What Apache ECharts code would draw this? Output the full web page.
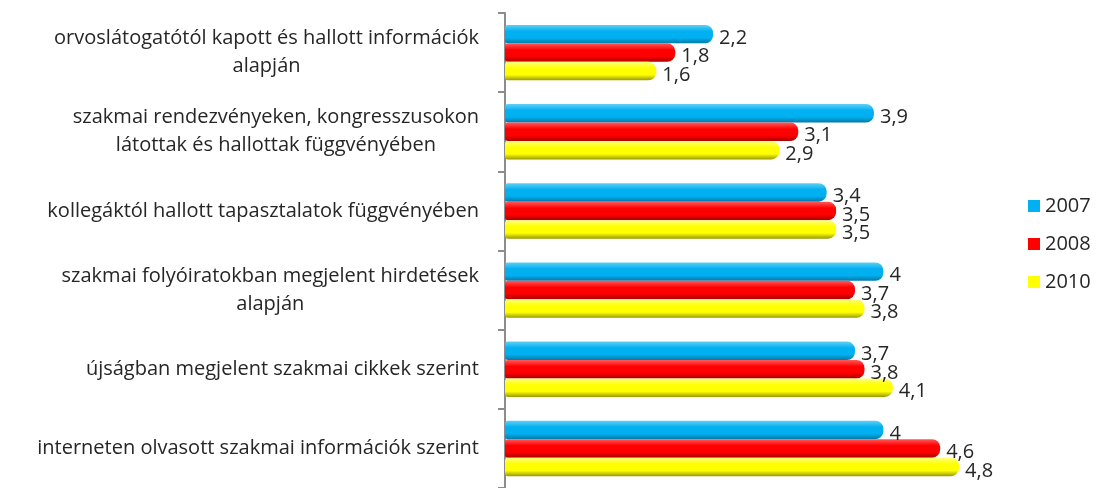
<!DOCTYPE html>
<html>
<head>
<meta charset="utf-8">
<script src="https://cdn.jsdelivr.net/npm/echarts@6/dist/echarts.min.js"></script>
<style>
  html, body { margin: 0; padding: 0; background: #fff; }
  #chart { width: 1100px; height: 488px; }
</style>
</head>
<body>
<div id="chart"></div>
<script>
// categories top to bottom
const categories = [
  ['orvoslátogatótól kapott és hallott információk', 'alapján'],
  ['szakmai rendezvényeken, kongresszusokon', 'látottak és hallottak függvényében'],
  ['kollegáktól hallott tapasztalatok függvényében'],
  ['szakmai folyóiratokban megjelent hirdetések', 'alapján'],
  ['újságban megjelent szakmai cikkek szerint'],
  ['interneten olvasott szakmai információk szerint']
];
const years = ['2007', '2008', '2010'];
const values2007 = [2.2, 3.9, 3.4, 4, 3.7, 4];
const values2008 = [1.8, 3.1, 3.5, 3.7, 3.8, 4.6];
const values2010 = [1.6, 2.9, 3.5, 3.8, 4.1, 4.8];

const FONT = '"Open Sans", Lato, sans-serif';
const TEXT = '#262626';

// cylinder-ish shading: light top, base middle, dark bottom
const PALETTE = [
  { base: '#00b0f0', light: '#5fd0f7', dark: '#0079a8' },
  { base: '#ff0000', light: '#ff5a5a', dark: '#a80000' },
  { base: '#ffff00', light: '#ffff80', dark: '#9a9a00' }
];

function shade(c) {
  return new echarts.graphic.LinearGradient(0, 0, 0, 1, [
    { offset: 0, color: c.light },
    { offset: 0.35, color: c.base },
    { offset: 0.7, color: c.base },
    { offset: 1, color: c.dark }
  ]);
}

const seriesData = [values2007, values2008, values2010];

const chart = echarts.init(document.getElementById('chart'), null, { renderer: 'canvas' });

chart.setOption({
  backgroundColor: '#fff',
  animation: false,
  grid: { left: 505, right: 122, top: 13, bottom: 0, containLabel: false },
  legend: {
    orient: 'vertical',
    left: 1023,
    top: 191,
    itemWidth: 12,
    itemHeight: 12,
    itemGap: 18,
    icon: 'rect',
    textStyle: { fontFamily: FONT, fontSize: 20, color: TEXT },
    data: years.map((y, i) => ({ name: y, itemStyle: { color: PALETTE[i].base } }))
  },
  xAxis: {
    type: 'value',
    min: 0,
    max: 5,
    show: false
  },
  yAxis: {
    type: 'category',
    inverse: true,
    data: categories.map(c => c.join('\n')),
    axisLine: { show: true, lineStyle: { color: '#8c8c8c', width: 2 } },
    axisTick: { show: true, length: 7, lineStyle: { color: '#8c8c8c', width: 2 } },
    axisLabel: {
      margin: 26,
      align: 'right',
      fontFamily: FONT,
      fontSize: 20,
      color: TEXT,
      lineHeight: 28,
      formatter: v => v.split('\n').map(s => '{c|' + s + '}').join('\n'),
      rich: { c: { align: 'center', fontFamily: FONT, fontSize: 20, color: TEXT, lineHeight: 28 } }
    }
  },
  series: years.map((y, i) => ({
    name: y,
    type: 'bar',
    data: seriesData[i],
    barGap: '0%',
    barCategoryGap: '30%',
    itemStyle: { color: shade(PALETTE[i]), borderRadius: [3, 8, 8, 3] },
    label: {
      show: true,
      position: 'right',
      distance: 6,
      offset: [0, 4],
      fontFamily: FONT,
      fontSize: 20,
      color: TEXT,
      formatter: p => String(p.value).replace('.', ',')
    }
  }))
});
</script>
</body>
</html>
